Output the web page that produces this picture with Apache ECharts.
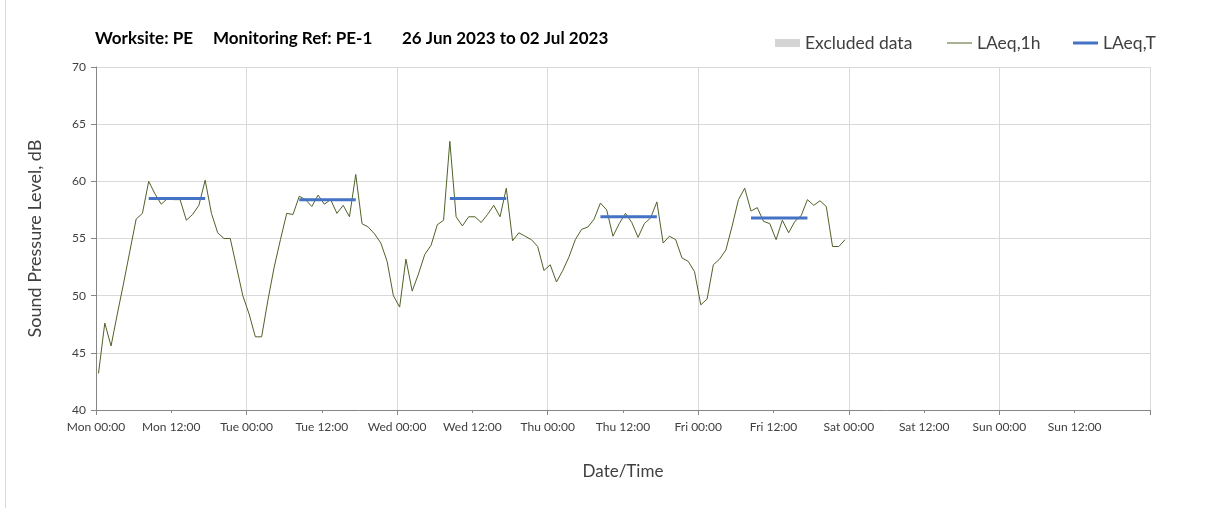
<!DOCTYPE html>
<html>
<head>
<meta charset="utf-8">
<script src="https://cdn.jsdelivr.net/npm/echarts@6/dist/echarts.min.js"></script>
<style>
  html, body { margin: 0; padding: 0; background: #fff; }
  #chart { width: 1208px; height: 508px; }
</style>
</head>
<body>
<div id="chart"></div>
<script>
// tick labels along the x axis, one every 12 hours from Mon 00:00
var tickLabels = ["Mon 00:00", "Mon 12:00", "Tue 00:00", "Tue 12:00", "Wed 00:00", "Wed 12:00",
  "Thu 00:00", "Thu 12:00", "Fri 00:00", "Fri 12:00", "Sat 00:00", "Sat 12:00", "Sun 00:00", "Sun 12:00", "Mon 00:00"];

// hourly LAeq,1h values from Mon 00:00 (dB)
var laeq1h = [
  43.2, 47.6, 45.6, 48.4, 51.1, 53.9, 56.7, 57.2, 60.0, 58.9,
  58.0, 58.5, 58.4, 58.4, 56.6, 57.1, 57.9, 60.1, 57.2, 55.5,
  55.0, 55.0, 52.5, 50.0, 48.4, 46.4, 46.4, 49.6, 52.5, 54.9,
  57.2, 57.1, 58.7, 58.4, 57.8, 58.8, 58.0, 58.4, 57.2, 57.9,
  56.9, 60.6, 56.3, 56.0, 55.4, 54.6, 53.0, 50.0, 49.0, 53.2,
  50.4, 51.9, 53.6, 54.4, 56.2, 56.6, 63.5, 56.9, 56.1, 56.9,
  56.9, 56.4, 57.1, 57.9, 56.9, 59.4, 54.8, 55.5, 55.2, 54.9,
  54.3, 52.2, 52.7, 51.2, 52.2, 53.4, 54.9, 55.8, 56.0, 56.7,
  58.1, 57.5, 55.2, 56.3, 57.2, 56.4, 55.1, 56.3, 56.8, 58.2,
  54.6, 55.2, 54.9, 53.3, 53.0, 52.1, 49.2, 49.7, 52.7, 53.2,
  54.0, 56.1, 58.4, 59.4, 57.4, 57.7, 56.5, 56.3, 54.9, 56.6,
  55.5, 56.5, 57.0, 58.4, 57.9, 58.3, 57.8, 54.3, 54.3, 54.9
];

// LAeq,T per day: period start/end hour index and level
var periodStart = [8, 32, 56, 80, 104];
var periodEnd = [17, 41, 65, 89, 113];
var laeqT = [58.5, 58.4, 58.5, 56.9, 56.8];

var hourOffset = 0.4; // plotting position inside each hour

var lineData = laeq1h.map(function (v, i) { return [i + hourOffset, v]; });
var tData = [];
laeqT.forEach(function (v, k) {
  tData.push([periodStart[k] + hourOffset, v]);
  tData.push([periodEnd[k] + hourOffset, v]);
  tData.push([periodEnd[k] + hourOffset, "-"]);
});

var font = "Lato";
var titleStyle = { fontFamily: font, fontSize: 17, fontWeight: "bold", color: "#000" };
var legendText = { fontFamily: font, fontSize: 17.5, color: "#404040" };

var chart = echarts.init(document.getElementById("chart"));
var option = {
  backgroundColor: "#fff",
  animation: false,
  title: [
    { text: "Worksite: PE", left: 90, top: 25, textStyle: titleStyle },
    { text: "Monitoring Ref: PE-1", left: 208, top: 25, textStyle: titleStyle },
    { text: "26 Jun 2023 to 02 Jul 2023", left: 397, top: 25, textStyle: titleStyle }
  ],
  legend: [
    {
      left: 770, top: 29, itemWidth: 25, itemHeight: 8, itemGap: 0,
      textStyle: legendText,
      data: [{ name: "Excluded data", icon: "rect" }]
    },
    {
      left: 942, top: 29, itemWidth: 25, itemHeight: 1, itemGap: 0,
      textStyle: legendText,
      data: [{ name: "LAeq,1h", icon: "rect" }]
    },
    {
      left: 1068, top: 29, itemWidth: 25, itemHeight: 3, itemGap: 0,
      textStyle: legendText,
      data: [{ name: "LAeq,T", icon: "rect" }]
    }
  ],
  graphic: [
    { type: "line", shape: { x1: 5.5, y1: 0, x2: 5.5, y2: 508 }, style: { stroke: "#d9d9d9", lineWidth: 1 } }
  ],
  grid: { left: 96, right: 58, top: 67, bottom: 98 },
  xAxis: [
    {
      type: "value",
      min: 0,
      max: 168,
      interval: 12,
      position: "bottom",
      name: "Date/Time",
      nameLocation: "middle",
      nameGap: 53,
      nameTextStyle: { fontFamily: font, fontSize: 17, color: "#404040" },
      axisLine: { show: true, lineStyle: { color: "#868686" } },
      axisTick: { show: true, length: 3, lineStyle: { color: "#868686" } },
      axisLabel: {
        fontFamily: font, fontSize: 12, color: "#404040", margin: 11,
        showMinLabel: true, showMaxLabel: false,
        formatter: function (v) { return tickLabels[Math.round(v / 12)]; }
      },
      splitLine: { show: false }
    },
    {
      type: "value",
      min: 0,
      max: 168,
      interval: 24,
      position: "bottom",
      axisLine: { show: false },
      axisTick: { show: true, length: 5, lineStyle: { color: "#868686" } },
      axisLabel: { show: false },
      splitLine: { show: true, lineStyle: { color: "#d9d9d9", width: 1 } }
    }
  ],
  yAxis: {
    type: "value",
    min: 40,
    max: 70,
    interval: 5,
    name: "Sound Pressure Level, dB",
    nameLocation: "middle",
    nameGap: 52,
    nameTextStyle: { fontFamily: font, fontSize: 18, color: "#404040" },
    axisLine: { show: true, lineStyle: { color: "#868686" } },
    axisTick: { show: true, length: 5, lineStyle: { color: "#868686" } },
    axisLabel: { fontFamily: font, fontSize: 12, color: "#404040", margin: 10 },
    splitLine: { show: true, lineStyle: { color: "#d9d9d9", width: 1 } }
  },
  series: [
    {
      name: "Excluded data",
      type: "bar",
      data: [],
      itemStyle: { color: "#d4d4d4" }
    },
    {
      name: "LAeq,1h",
      type: "line",
      data: lineData,
      symbol: "none",
      lineStyle: { color: "#4f6228", width: 1 },
      itemStyle: { color: "#4f6228" },
      z: 3
    },
    {
      name: "LAeq,T",
      type: "line",
      data: tData,
      symbol: "none",
      connectNulls: false,
      lineStyle: { color: "#4472c4", width: 3 },
      itemStyle: { color: "#4472c4" },
      z: 4
    }
  ]
};
chart.setOption(option);
</script>
</body>
</html>
